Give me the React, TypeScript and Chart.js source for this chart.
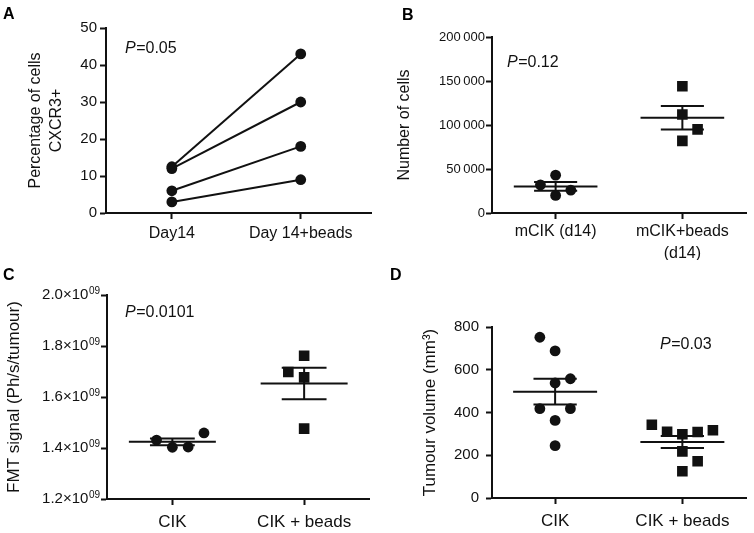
import React, { useEffect, useRef } from 'react';
import { Chart, registerables } from 'chart.js';

Chart.register(...registerables);

const FONT = '"Liberation Sans", Arial, Helvetica, "DejaVu Sans", sans-serif';
const INK = '#111111';

// ---------- Panel A ----------
const aCategories = ['Day14', 'Day 14+beads'];
const aDay14 = [12.5, 12, 6, 3];
const aDay14Beads = [43, 30, 18, 9];
const aTickLabels = ['0', '10', '20', '30', '40', '50'];
const aTitle = ['Percentage of cells', 'CXCR3+'];

// ---------- Panel B ----------
const bCategories: (string | string[])[] = ['mCIK (d14)', ['mCIK+beads', '(d14)']];
const bMCIK = [20000, 32000, 26000, 43000];
const bMCIKBeads = [144000, 112000, 95000, 82000];
const bTickLabels = ['0', '50\u2009000', '100\u2009000', '150\u2009000', '200\u2009000'];
const bTitle = 'Number of cells';

// ---------- Panel C ----------
const cCategories = ['CIK', 'CIK + beads'];
const cCIK = [1.403e9, 1.431e9, 1.404e9, 1.459e9];
const cCIKBeads = [1.677e9, 1.762e9, 1.698e9, 1.476e9];
const cTickLabels = ['1.2×10^09', '1.4×10^09', '1.6×10^09', '1.8×10^09', '2.0×10^09'];
const cTitle = 'FMT signal (Ph/s/tumour)';

// ---------- Panel D ----------
const dCategories = ['CIK', 'CIK + beads'];
const dCIK = [688, 538, 752, 558, 363, 418, 418, 245];
const dCIKBeads = [298, 218, 172, 310, 309, 343, 317, 125];
const dTickLabels = ['0', '200', '400', '600', '800'];
const dTitle = 'Tumour volume (mm³)';

const panelLetters = ['A', 'B', 'C', 'D'];
const pValues = ['0.05', '0.12', '0.0101', '0.03'];

// ---------- helpers ----------
const SLOT = 0.12;
const MEAN_HALF = 0.33;
const SEM_HALF = 0.17;

function mean(v: number[]) {
  return v.reduce((a, b) => a + b, 0) / v.length;
}
function sem(v: number[]) {
  const m = mean(v);
  const sd = Math.sqrt(v.reduce((a, b) => a + (b - m) * (b - m), 0) / (v.length - 1));
  return sd / Math.sqrt(v.length);
}

// simple greedy beeswarm: returns a column slot for each value
function swarm(values: number[], tol: number): number[] {
  const slots: number[] = [];
  for (let i = 0; i < values.length; i++) {
    const v = values[i];
    const collides = (s: number) =>
      slots.some((t, j) => t === s && Math.abs(values[j] - v) < tol);
    if (!collides(0)) {
      slots.push(0);
      continue;
    }
    let chosen = 0;
    for (let k = 1; k < 12; k++) {
      const negFree = !collides(-k);
      const posFree = !collides(k);
      if (negFree && posFree) {
        const neg = slots.filter((s) => s < 0).length;
        const pos = slots.filter((s) => s > 0).length;
        if (neg !== pos) {
          chosen = neg < pos ? -k : k;
        } else if (k === 1) {
          let best = Infinity;
          let ref = v;
          slots.forEach((_t, j) => {
            const d = Math.abs(values[j] - v);
            if (d < tol && d < best) {
              best = d;
              ref = values[j];
            }
          });
          chosen = v >= ref ? -k : k;
        } else {
          let best = Infinity;
          let side = 1;
          slots.forEach((t, j) => {
            const d = Math.abs(values[j] - v);
            if (Math.abs(t) === k - 1 && d < tol && d < best) {
              best = d;
              side = t < 0 ? 1 : -1;
            }
          });
          chosen = side * k;
        }
        break;
      }
      if (negFree) {
        chosen = -k;
        break;
      }
      if (posFree) {
        chosen = k;
        break;
      }
    }
    slots.push(chosen);
  }
  return slots;
}

function lineDs(pts: { x: number; y: number }[]) {
  return {
    data: pts,
    showLine: true,
    borderColor: INK,
    borderWidth: 2,
    pointRadius: 0,
    pointHoverRadius: 0,
    fill: false,
    tension: 0,
  };
}

function columnDatasets(groups: number[][], styles: string[], yRange: number) {
  const ds: any[] = [];
  groups.forEach((vals, gi) => {
    const slots = swarm(vals, 0.095 * yRange);
    const isRect = styles[gi] === 'rect';
    ds.push({
      data: vals.map((v, i) => ({ x: gi + slots[i] * SLOT, y: v })),
      pointStyle: styles[gi],
      pointRadius: isRect ? 7.5 : 5.4,
      pointBackgroundColor: INK,
      pointBorderColor: INK,
      pointBorderWidth: 0,
      showLine: false,
    });
    const m = mean(vals);
    const s = sem(vals);
    ds.push(lineDs([{ x: gi - MEAN_HALF, y: m }, { x: gi + MEAN_HALF, y: m }]));
    ds.push(lineDs([{ x: gi - SEM_HALF, y: m + s }, { x: gi + SEM_HALF, y: m + s }]));
    ds.push(lineDs([{ x: gi - SEM_HALF, y: m - s }, { x: gi + SEM_HALF, y: m - s }]));
    ds.push(lineDs([{ x: gi, y: m - s }, { x: gi, y: m + s }]));
  });
  return ds;
}

type Spec = {
  width: number;
  height: number;
  pad: { left: number; top: number; right: number; bottom: number };
  yWidth: number;
  xHeight: number;
  xMin: number;
  xMax: number;
  yMin: number;
  yMax: number;
  yStep: number;
  yTickLabels: string[];
  yTickFont: number;
  yTickPad: number;
  superscriptTicks?: boolean;
  yTitle: string | string[];
  yTitleFont: number;
  yTitleLH: number;
  categories: (string | string[])[];
  catFont: number;
  catLH: number;
  catPad: number;
  datasets: any[];
  letter: string;
  letterX: number;
  letterY: number;
  pValue: string;
  pX: number;
  pY: number;
};

const TICK_LEN = 6;

function buildConfig(spec: Spec): any {
  const annot = {
    id: 'annot' + spec.letter,
    afterDraw(chart: any) {
      const { ctx, chartArea } = chart;
      ctx.save();
      ctx.fillStyle = '#000';
      ctx.textBaseline = 'alphabetic';
      ctx.textAlign = 'left';
      ctx.font = `bold 16px ${FONT}`;
      ctx.fillText(spec.letter, spec.letterX, spec.letterY);
      const x0 = chartArea.left + spec.pX;
      const y0 = chartArea.top + spec.pY;
      ctx.fillStyle = INK;
      ctx.font = `italic 16px ${FONT}`;
      ctx.fillText('P', x0, y0);
      const w = ctx.measureText('P').width;
      ctx.font = `16px ${FONT}`;
      ctx.fillText('=' + spec.pValue, x0 + w + 0.5, y0);

      if (spec.superscriptTicks) {
        const yScale = chart.scales.y;
        const right = chartArea.left - TICK_LEN - spec.yTickPad;
        yScale.ticks.forEach((t: any, i: number) => {
          const label = spec.yTickLabels[i] || '';
          const [base, exp] = label.split('^');
          const y = yScale.getPixelForValue(t.value);
          ctx.textAlign = 'right';
          ctx.fillStyle = INK;
          let xr = right;
          if (exp) {
            ctx.font = `10px ${FONT}`;
            ctx.textBaseline = 'alphabetic';
            ctx.fillText(exp, xr, y - 1.5);
            xr -= ctx.measureText(exp).width + 0.5;
          }
          ctx.font = `${spec.yTickFont}px ${FONT}`;
          ctx.textBaseline = 'middle';
          ctx.fillText(base, xr, y);
        });
      }
      ctx.restore();
    },
  };

  return {
    type: 'scatter',
    data: { datasets: spec.datasets },
    plugins: [annot],
    options: {
      animation: false,
      responsive: false,
      events: [],
      layout: { padding: spec.pad },
      plugins: {
        legend: { display: false },
        tooltip: { enabled: false },
        title: { display: false },
      },
      scales: {
        x: {
          type: 'linear',
          min: spec.xMin,
          max: spec.xMax,
          afterBuildTicks: (s: any) => {
            s.ticks = spec.categories.map((_c, i) => ({ value: i }));
          },
          afterFit: (s: any) => {
            s.height = spec.xHeight;
          },
          ticks: {
            autoSkip: false,
            maxRotation: 0,
            minRotation: 0,
            padding: spec.catPad,
            color: INK,
            font: { family: FONT, size: spec.catFont, lineHeight: spec.catLH },
            callback: (_v: any, i: number) => spec.categories[i],
          },
          grid: {
            drawOnChartArea: false,
            drawTicks: true,
            tickLength: TICK_LEN,
            tickWidth: 2,
            color: INK,
            tickColor: INK,
          },
          border: { display: true, color: INK, width: 2 },
        },
        y: {
          type: 'linear',
          min: spec.yMin,
          max: spec.yMax,
          afterFit: (s: any) => {
            s.width = spec.yWidth;
          },
          ticks: {
            display: !spec.superscriptTicks,
            stepSize: spec.yStep,
            padding: spec.yTickPad,
            color: INK,
            font: { family: FONT, size: spec.yTickFont },
            callback: (_v: any, i: number) => spec.yTickLabels[i],
          },
          grid: {
            drawOnChartArea: false,
            drawTicks: true,
            tickLength: TICK_LEN,
            tickWidth: 2,
            color: INK,
            tickColor: INK,
          },
          border: { display: true, color: INK, width: 2 },
          title: {
            display: true,
            text: spec.yTitle,
            color: INK,
            font: { family: FONT, size: spec.yTitleFont, lineHeight: spec.yTitleLH },
            padding: { top: 0, bottom: 0 },
          },
        },
      },
    },
  };
}

// ---------- panel specs ----------
const specA: Spec = {
  width: 377,
  height: 260,
  pad: { left: 25.6, top: 28, right: 1, bottom: 0 },
  yWidth: 80.4,
  xHeight: 47,
  xMin: -0.511,
  xMax: 1.55,
  yMin: 0,
  yMax: 50,
  yStep: 10,
  yTickLabels: aTickLabels,
  yTickFont: 15,
  yTickPad: 3,
  yTitle: aTitle,
  yTitleFont: 16,
  yTitleLH: 1.3,
  categories: aCategories,
  catFont: 16,
  catLH: 1.2,
  catPad: 5,
  datasets: aDay14.map((v, i) => ({
    data: [
      { x: 0, y: v },
      { x: 1, y: aDay14Beads[i] },
    ],
    showLine: true,
    borderColor: INK,
    borderWidth: 2,
    tension: 0,
    pointStyle: 'circle',
    pointRadius: 5.4,
    pointBackgroundColor: INK,
    pointBorderColor: INK,
    pointBorderWidth: 0,
  })),
  letter: panelLetters[0],
  letterX: 3,
  letterY: 19,
  pValue: pValues[0],
  pX: 19,
  pY: 25,
};

const specB: Spec = {
  width: 377,
  height: 260,
  pad: { left: 18.4, top: 37, right: 0, bottom: 0 },
  yWidth: 96.6,
  xHeight: 47,
  xMin: -0.502,
  xMax: 1.506,
  yMin: 0,
  yMax: 200000,
  yStep: 50000,
  yTickLabels: bTickLabels,
  yTickFont: 13,
  yTickPad: 1,
  yTitle: bTitle,
  yTitleFont: 16,
  yTitleLH: 1.2,
  categories: bCategories,
  catFont: 16,
  catLH: 1.4,
  catPad: 1,
  datasets: columnDatasets([bMCIK, bMCIKBeads], ['circle', 'rect'], 200000),
  letter: panelLetters[1],
  letterX: 25,
  letterY: 20,
  pValue: pValues[1],
  pX: 15,
  pY: 30,
};

const specC: Spec = {
  width: 377,
  height: 273,
  pad: { left: 3.8, top: 35, right: 1, bottom: 0 },
  yWidth: 103.2,
  xHeight: 34,
  xMin: -0.496,
  xMax: 1.496,
  yMin: 1.2e9,
  yMax: 2.0e9,
  yStep: 0.2e9,
  yTickLabels: cTickLabels,
  yTickFont: 15,
  yTickPad: 1,
  superscriptTicks: true,
  yTitle: cTitle,
  yTitleFont: 17,
  yTitleLH: 1.2,
  categories: cCategories,
  catFont: 17,
  catLH: 1.2,
  catPad: 7,
  datasets: columnDatasets([cCIK, cCIKBeads], ['circle', 'rect'], 0.8e9),
  letter: panelLetters[2],
  letterX: 3,
  letterY: 20,
  pValue: pValues[2],
  pX: 18,
  pY: 22,
};

const specD: Spec = {
  width: 377,
  height: 273,
  pad: { left: 42.8, top: 67, right: 0, bottom: 0 },
  yWidth: 72.2,
  xHeight: 35,
  xMin: -0.496,
  xMax: 1.504,
  yMin: 0,
  yMax: 800,
  yStep: 200,
  yTickLabels: dTickLabels,
  yTickFont: 15,
  yTickPad: 7,
  yTitle: dTitle,
  yTitleFont: 17,
  yTitleLH: 1.2,
  categories: dCategories,
  catFont: 17,
  catLH: 1.2,
  catPad: 7,
  datasets: columnDatasets([dCIK, dCIKBeads], ['circle', 'rect'], 800),
  letter: panelLetters[3],
  letterX: 13,
  letterY: 20,
  pValue: pValues[3],
  pX: 168,
  pY: 22,
};

function Panel({ spec, left, top }: { spec: Spec; left: number; top: number }) {
  const ref = useRef<HTMLCanvasElement>(null);
  useEffect(() => {
    if (!ref.current) return;
    const chart = new Chart(ref.current, buildConfig(spec));
    return () => chart.destroy();
  }, [spec]);
  return (
    <canvas
      ref={ref}
      width={spec.width}
      height={spec.height}
      style={{ position: 'absolute', left, top, width: spec.width, height: spec.height }}
    />
  );
}

export default function App() {
  return (
    <div
      style={{
        position: 'fixed',
        left: 0,
        top: 0,
        width: 754,
        height: 533,
        background: '#ffffff',
        overflow: 'hidden',
      }}
    >
      <Panel spec={specA} left={0} top={0} />
      <Panel spec={specB} left={377} top={0} />
      <Panel spec={specC} left={0} top={260} />
      <Panel spec={specD} left={377} top={260} />
    </div>
  );
}
